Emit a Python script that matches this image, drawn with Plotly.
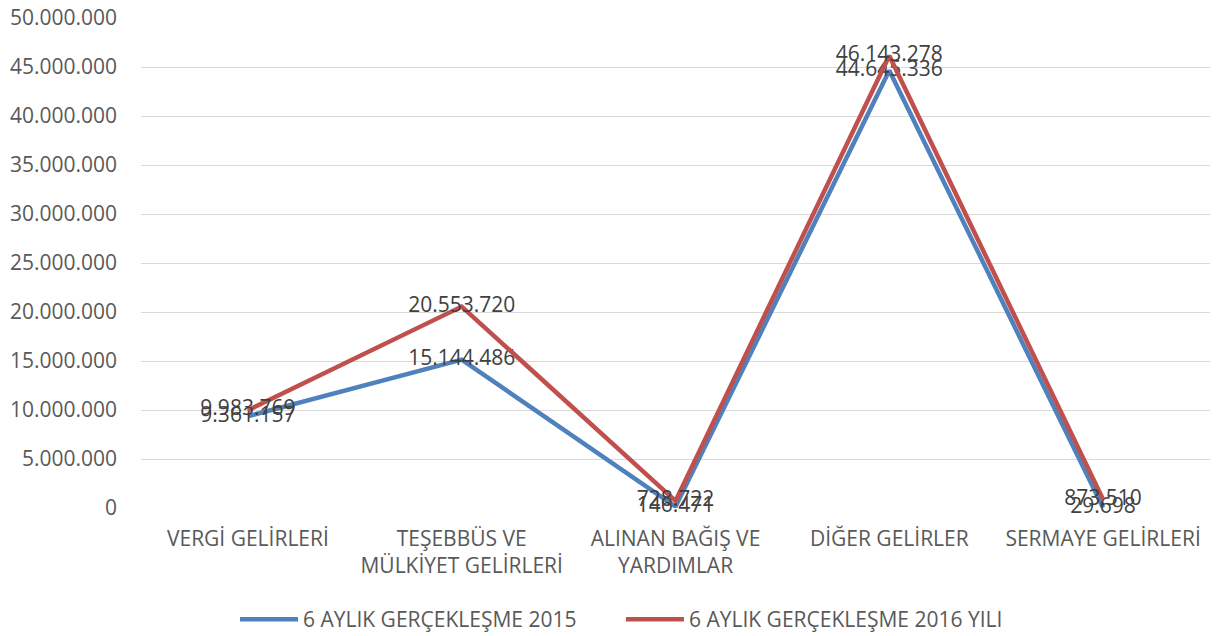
import plotly.graph_objects as go

categories = ["VERGİ GELİRLERİ", "TEŞEBBÜS VE<br>MÜLKİYET GELİRLERİ", "ALINAN BAĞIŞ VE<br>YARDIMLAR",
              "DİĞER GELİRLER", "SERMAYE GELİRLERİ"]
series_2015 = [9361157, 15144486, 146471, 44645336, 29698]
series_2016 = [9983769, 20553720, 728722, 46143278, 873510]
names = ["6 AYLIK GERÇEKLEŞME 2015", "6 AYLIK GERÇEKLEŞME 2016 YILI"]
colors = ["#4F81BD", "#C0504D"]
ytick_vals = list(range(0, 50000001, 5000000))

def fmt(v):
    return f"{v:,}".replace(",", ".")

FONT = "Open Sans"
FS = 21
W, H = 1219, 636
fig = go.Figure()
for name, vals, col in zip(names, [series_2015, series_2016], colors):
    fig.add_trace(go.Scatter(
        x=categories, y=vals, name=name, mode="lines+text",
        line=dict(color=col, width=4.5),
        text=[fmt(v) for v in vals], textposition="middle center",
        textfont=dict(family=FONT, size=FS, color="#404040"),
        cliponaxis=False,
    ))

fig.update_layout(
    width=W, height=H,
    margin=dict(l=141, r=9, t=18, b=128),
    paper_bgcolor="white", plot_bgcolor="white",
    separators=",.",
    font=dict(family=FONT, size=FS, color="#595959"),
    showlegend=True,
    legend=dict(orientation="h", xref="container", yref="container",
                x=235 / W, xanchor="left", y=(636 - 599) / 636, yanchor="top",
                font=dict(family=FONT, size=FS, color="#595959"), itemwidth=58,
                entrywidth=313, entrywidthmode="pixels",
                traceorder="normal"),
    xaxis=dict(range=[-0.5, 4.5], showgrid=False, showline=False, ticks="",
               automargin=False, ticklabelstandoff=16,
               tickfont=dict(family=FONT, size=FS, color="#595959")),
    yaxis=dict(range=[0, 50000000], tickvals=ytick_vals, tickformat=",d",
               showgrid=True, gridcolor="#D9D9D9", gridwidth=1.3, zeroline=False,
               showline=False, ticks="", ticklabelstandoff=23, automargin=False,
               ticklabeloverflow="allow",
               tickfont=dict(family=FONT, size=FS, color="#595959")),
)
fig.write_html("out.html", config={"displayModeBar": False},
               post_script="document.body.style.margin='0';")
